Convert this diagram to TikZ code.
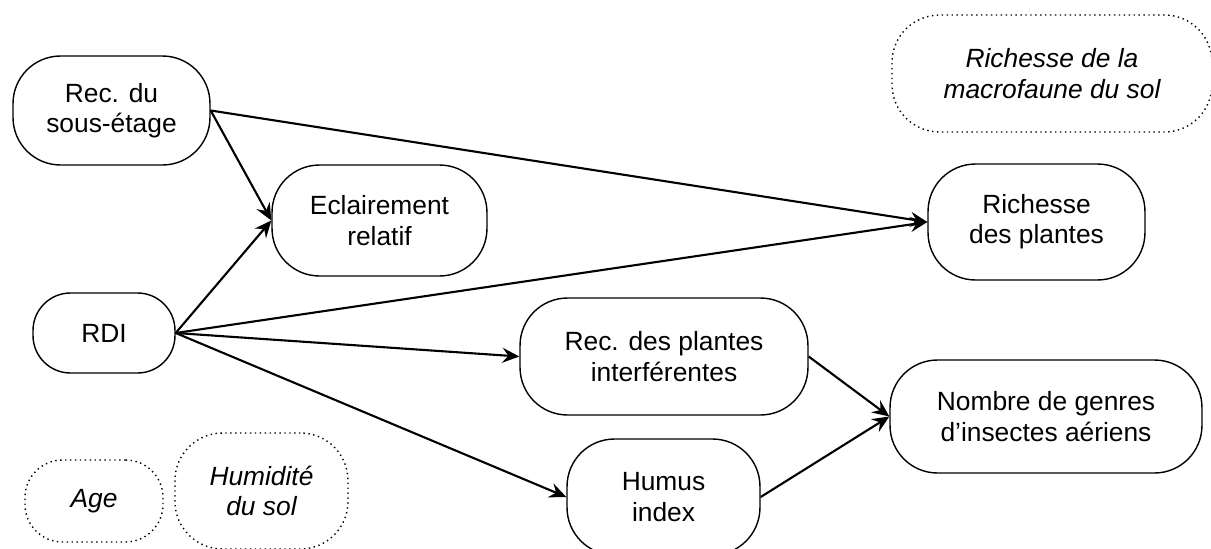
\documentclass[tikz,border=0pt]{standalone}
\usepackage{fontspec}
\setmainfont{Liberation Sans}
\usetikzlibrary{arrows.meta}
\tikzstyle{measured} = [
  draw,
  rectangle,
  rounded corners=0.95cm,
  line width=0.8pt,
  align=center,
  font=\fontsize{15}{17.2}\selectfont,
]
\tikzstyle{latent} = [
  measured,
  dotted,
  font=\fontsize{15}{17.2}\selectfont\itshape,
]
\tikzstyle{effect} = [
  line width=1.2pt,
  -{Stealth[length=0.34cm,width=0.3cm,inset=0.12cm]},
]

\begin{document}
\begin{tikzpicture}[
    x=0.02cm,
    y=-0.02cm,
  ]
  \useasboundingbox (0,0) rectangle (1211,548);
  \node[
    measured,
    minimum width=3.94cm,
    minimum height=2.18cm,
  ](recsous) at (111.5,110.5){Rec. du\\sous-étage};
  \node[
    measured,
    minimum width=4.3cm,
    minimum height=2.22cm,
  ](eclair) at (379.5,220.5){Eclairement\\relatif};
  \node[
    measured,
    minimum width=2.84cm,
    minimum height=1.6cm,
    rounded corners=0.75cm,
  ](rdi) at (104,333){RDI};
  \node[
    measured,
    minimum width=5.76cm,
    minimum height=2.34cm,
  ](recplantes) at (664,356.5){Rec. des plantes\\interférentes};
  \node[
    measured,
    minimum width=3.86cm,
    minimum height=2.32cm,
  ](humus) at (663.5,497){Humus\\index};
  \node[
    measured,
    minimum width=4.34cm,
    minimum height=2.32cm,
  ](richplantes) at (1036.5,222){Richesse\\des plantes};
  \node[
    measured,
    minimum width=6.24cm,
    minimum height=2.26cm,
  ](insectes) at (1046,416.5){Nombre de genres\\d’insectes aériens};
  \node[
    latent,
    minimum width=6.4cm,
    minimum height=2.34cm,
  ](macrofaune) at (1052,73.5){Richesse de la\\macrofaune du sol};
  \node[
    latent,
    minimum width=2.76cm,
    minimum height=1.64cm,
    rounded corners=0.75cm,
  ](age) at (94,501){Age};
  \node[
    latent,
    minimum width=3.46cm,
    minimum height=2.32cm,
  ](humidite) at (261.5,491){Humidité\\du sol};
  \path [effect] (recsous.east) edge (eclair.west);
  \path [effect] (recsous.east) edge (richplantes.west);
  \path [effect] (rdi.east) edge (eclair.west);
  \path [effect] (rdi.east) edge (richplantes.west);
  \path [effect] (rdi.east) edge (recplantes.west);
  \path [effect] (rdi.east) edge (humus.west);
  \path [effect] (recplantes.east) edge (insectes.west);
  \path [effect] (humus.east) edge (insectes.west);
\end{tikzpicture}
\end{document}
